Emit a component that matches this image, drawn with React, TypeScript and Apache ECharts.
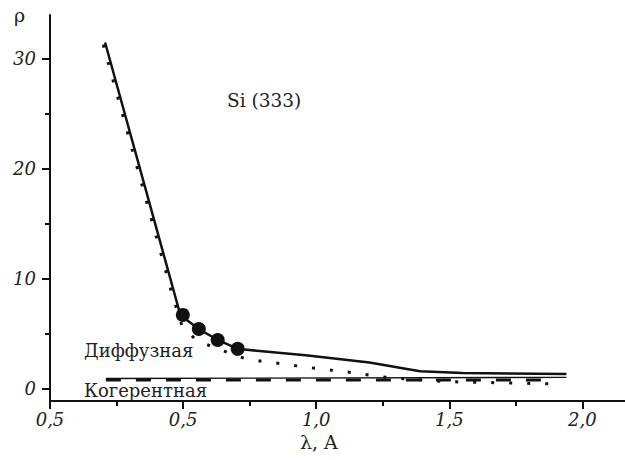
import React, { useEffect, useRef } from "react";
import * as echarts from "echarts";

const xMajor = [0, 0.5, 1.0, 1.5, 2.0];
const xMajorLabels = ["0,5", "0,5", "1,0", "1,5", "2,0"];
const xMinor = [0.25, 0.75, 1.25, 1.75];
const yMajor = [0, 10, 20, 30];
const yMinor = [5, 15, 25];

const diffuseLine = [
  [0.207, 31.5], [0.49, 6.7], [0.559, 5.45], [0.63, 4.45], [0.705, 3.64],
  [0.96, 3.05], [1.2, 2.4], [1.39, 1.6], [1.55, 1.45], [1.94, 1.35],
];
const diffusePoints = [
  [0.499, 6.73], [0.559, 5.45], [0.63, 4.45], [0.705, 3.64],
];
const dottedLine = [
  [0.2, 31.3], [0.46, 8.5], [0.495, 5.8], [0.55, 4.4], [0.668, 3.3],
  [0.739, 2.7], [0.874, 2.27], [1.013, 1.82], [1.148, 1.45], [1.216, 1.18],
  [1.283, 1.0], [1.5, 0.65], [1.91, 0.45],
];
const coherentThin = [[0.21, 0.95], [1.94, 1.05]];
const coherentDashed = [[0.21, 0.8], [1.9, 0.8]];

const SERIF = "DejaVu Serif";
const INK = "#111";

export default function App() {
  const ref = useRef<HTMLDivElement>(null);
  useEffect(() => {
    if (!ref.current) return;
    const chart = echarts.init(ref.current, null, { renderer: "svg" });
    const xMin = 0, xMax = 2.16, yMin = -1.1, yMax = 34;
    const axisCommon = { type: "value", splitLine: { show: false } };
    const txt = (text: string, left: number, top: number, size: number) => ({
      type: "text", left, top,
      style: { text, fontFamily: SERIF, fontSize: size, fill: "#222" },
    });
    chart.setOption({
      animation: false,
      backgroundColor: "#fff",
      grid: { left: 50, right: 0, top: 15, bottom: 59, containLabel: false },
      xAxis: [
        {
          ...axisCommon, min: xMin, max: xMax, position: "bottom",
          axisLine: { show: true, onZero: false, lineStyle: { color: INK, width: 2 } },
          axisTick: { show: true, customValues: xMajor, length: 8, inside: false, lineStyle: { color: INK, width: 2 } },
          axisLabel: {
            customValues: xMajor, margin: 9,
            formatter: (v: number) => { const i = xMajor.findIndex((m) => Math.abs(m - v) < 1e-6); return i >= 0 ? xMajorLabels[i] : ""; },
            fontFamily: SERIF, fontStyle: "italic", fontSize: 18, color: "#222",
          },
        },
        {
          ...axisCommon, min: xMin, max: xMax, position: "bottom",
          axisLine: { show: false, onZero: false },
          axisTick: { show: true, customValues: xMinor, length: 5, lineStyle: { color: INK, width: 2 } },
          axisLabel: { show: false },
        },
      ],
      yAxis: [
        {
          ...axisCommon, min: yMin, max: yMax, position: "left",
          axisLine: { show: true, onZero: false, lineStyle: { color: INK, width: 2 } },
          axisTick: { show: true, customValues: yMajor, length: 8, lineStyle: { color: INK, width: 2 } },
          axisLabel: {
            customValues: yMajor, margin: 14,
            fontFamily: SERIF, fontStyle: "italic", fontSize: 18, color: "#222",
          },
        },
        {
          ...axisCommon, min: yMin, max: yMax, position: "left",
          axisLine: { show: false, onZero: false },
          axisTick: { show: true, customValues: yMinor, length: 5, lineStyle: { color: INK, width: 2 } },
          axisLabel: { show: false },
        },
      ],
      series: [
        {
          type: "line", data: coherentThin, showSymbol: false, symbol: "none",
          lineStyle: { color: INK, width: 1.4 }, z: 2,
        },
        {
          type: "line", data: coherentDashed, showSymbol: false, symbol: "none",
          lineStyle: { color: INK, width: 3, type: [15, 15] }, z: 2,
        },
        {
          type: "line", data: dottedLine, showSymbol: false, symbol: "none",
          lineStyle: { color: INK, width: 3, type: [3, 15] }, z: 3,
        },
        {
          type: "line", data: diffuseLine, showSymbol: false, symbol: "none",
          lineStyle: { color: INK, width: 2.5 }, z: 4,
        },
        {
          type: "scatter", data: diffusePoints, symbol: "circle", symbolSize: 14,
          itemStyle: { color: INK, opacity: 1 }, z: 5,
        },
      ],
      graphic: [
        txt("ρ", 14, 5, 19),
        txt("λ, A", 300, 432, 19),
        txt("Si (333)", 227, 91, 18.5),
        txt("Диффузная", 84, 341, 18),
        txt("Когерентная", 84, 381, 18),
      ],
    });
    return () => chart.dispose();
  }, []);
  return (
    <div
      ref={ref}
      style={{ position: "fixed", left: 0, top: 0, width: 625, height: 460, background: "#fff" }}
    />
  );
}
